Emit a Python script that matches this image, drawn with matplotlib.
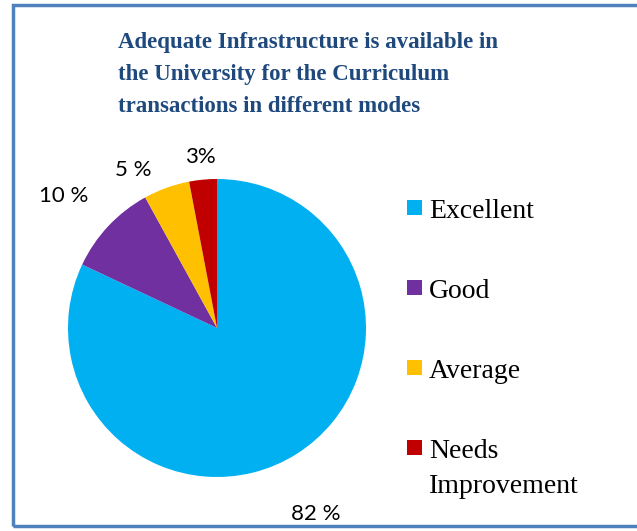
import numpy as np
import matplotlib
matplotlib.use("Agg")
import matplotlib.pyplot as plt
from matplotlib.patches import Rectangle

# data
categories = ["Excellent", "Good", "Average", "Needs\nImprovement"]
values = [82, 10, 5, 3]
pct_labels = ["82 %", "10 %", "5 %", "3%"]
colors = ["#00B0F0", "#7030A0", "#FFC000", "#C00000"]
title_lines = ["Adequate Infrastructure is available in",
               "the University for the Curriculum",
               "transactions in different modes"]

# label placement (distance in radii, angle shift in degrees)
label_dist = [1.41, 1.36, 1.2, 1.15]
label_shift = [-4.5, 2.5, 8.0, 0.0]

W, H = 637, 531
fig = plt.figure(figsize=(W / 100, H / 100), dpi=100)


def px(x, y):
    # pixel position (from top-left) -> figure fraction
    return x / W, 1 - y / H


# pie axes: centre ~ (217, 328) px, radius ~149 px
cx, cy, r = 217, 328, 149
ax = fig.add_axes([(cx - r) / W, (H - cy - r) / H, 2 * r / W, 2 * r / H])
wedges, _ = ax.pie(values, colors=colors, startangle=90, counterclock=False,
                   radius=1, wedgeprops=dict(linewidth=0))
ax.set_xlim(-1, 1)
ax.set_ylim(-1, 1)
ax.set_aspect("auto")

for w, lab, d, s in zip(wedges, pct_labels, label_dist, label_shift):
    mid = np.deg2rad((w.theta1 + w.theta2) / 2 + s)
    ax.text(d * np.cos(mid), d * np.sin(mid), lab, ha="center", va="center",
            fontsize=16, family="Lato", color="black", clip_on=False)

# title, one line at a time
for i, line in enumerate(title_lines):
    fig.text(*px(118, 48 + 32 * i), line, ha="left", va="baseline",
             fontsize=16.5, fontweight="bold", family="Liberation Serif",
             color="#1F497D")

# legend drawn by hand so the square sits on the first text line
for i, (cat, col) in enumerate(zip(categories, colors)):
    base = 218 + 80 * i
    x0, y0 = px(407, base - 3)
    fig.patches.append(Rectangle((x0, y0), 15 / W, 15 / H, transform=fig.transFigure,
                                 facecolor=col, edgecolor="none"))
    for j, part in enumerate(cat.split("\n")):
        fig.text(*px(429, base + 35 * j), part, ha="left", va="baseline",
                 fontsize=20, family="Liberation Serif", color="black")

# blue border (right side runs off the picture)
fig.patches.append(Rectangle((13 / W, 5 / H), 2.0, 1 - 10 / H, transform=fig.transFigure,
                             fill=False, edgecolor="#4F81BD", linewidth=2.5, clip_on=False))

fig.savefig("out.png", dpi=100)
